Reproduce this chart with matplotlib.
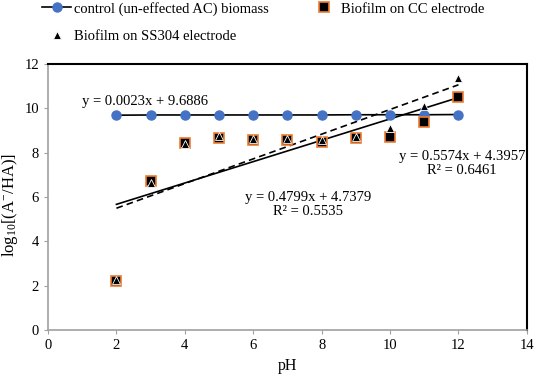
import numpy as np
import matplotlib
matplotlib.use("Agg")
import matplotlib.pyplot as plt

plt.rcParams['font.family'] = ['Liberation Serif', 'DejaVu Serif']
plt.rcParams['mathtext.fontset'] = 'custom'
plt.rcParams['mathtext.rm'] = 'Liberation Serif'
plt.rcParams['mathtext.it'] = 'Liberation Serif:italic'

ph = [2, 3, 4, 5, 6, 7, 8, 9, 10, 11, 12]
control = [9.69, 9.70, 9.70, 9.70, 9.70, 9.70, 9.70, 9.71, 9.71, 9.71, 9.72]
cc = [2.2, 6.7, 8.45, 8.65, 8.55, 8.55, 8.5, 8.65, 8.7, 9.4, 10.5]
ss = [2.25, 6.65, 8.4, 8.75, 8.6, 8.6, 8.55, 8.7, 9.1, 10.1, 11.35]

label_control = "control (un-effected AC) biomass"
label_cc = "Biofilm on CC electrode"
label_ss = "Biofilm on SS304 electrode"
eq_control = "y = 0.0023x + 9.6886"
eq_cc = "y = 0.4799x + 4.7379\nR² = 0.5535"
eq_ss = "y = 0.5574x + 4.3957\nR² = 0.6461"

fig = plt.figure(figsize=(5.36, 3.8), dpi=100)
ax = fig.add_axes([0.0896, 0.1316, 0.8934, 0.70])

x = np.array(ph, dtype=float)
# trendlines
p_cc = np.polyfit(x, cc, 1)
p_ss = np.polyfit(x, ss, 1)
xx = np.array([2, 12], dtype=float)
ax.plot(xx, np.polyval(p_cc, xx), color='black', lw=1.2, zorder=2)
ax.plot(xx, np.polyval(p_ss, xx), color='black', lw=1.2, ls=(0, (4, 2.5)), zorder=2)

h1, = ax.plot(ph, control, color='black', lw=1.2, marker='o', markersize=6.5,
              markerfacecolor='#4472C4', markeredgecolor='#4472C4', zorder=3,
              label=label_control)
h2, = ax.plot(ph, cc, ls='none', marker='s', markersize=6.5, markerfacecolor='black',
              markeredgecolor='#ED7D31', markeredgewidth=1.2, zorder=4, label=label_cc)
h3, = ax.plot(ph, ss, ls='none', marker='^', markersize=5.5, markerfacecolor='black',
              markeredgecolor='white', markeredgewidth=0.6, zorder=5, label=label_ss)

ax.set_xlim(0, 14)
ax.set_ylim(0, 12)
ax.set_xticks(range(0, 15, 2))
ax.set_yticks(range(0, 13, 2))
fs = 10.5
ax.tick_params(labelsize=fs, length=3, color='#A0A0A0', direction='out')
for s in ['left', 'bottom']:
    ax.spines[s].set_color('#A0A0A0')
    ax.spines[s].set_linewidth(1.2)
for s in ['top', 'right']:
    ax.spines[s].set_color('black')
    ax.spines[s].set_linewidth(1.5)

ax.set_xlabel('pH', fontsize=11.5, labelpad=4.5)
ax.set_ylabel(r'log$_{10}$[(A$^{-}$/HA)]', fontsize=12)
ax.yaxis.set_label_coords(-0.058, 0.47)

ax.text(1.0, 10.3, eq_control, fontsize=fs, ha='left', va='center')
ax.text(7.6, 5.64, eq_cc, fontsize=fs, ha='center', va='center', linespacing=1.1)
ax.text(12.1, 7.5, eq_ss, fontsize=fs, ha='center', va='center', linespacing=1.1)

fig.legend(handles=[h1, h3, h2], ncol=2, frameon=False, fontsize=fs,
           loc='upper left', bbox_to_anchor=(0.054, 1.03), handlelength=2.0,
           handletextpad=0.2, columnspacing=2.75, labelspacing=1.0)

fig.savefig('out.png', dpi=100)
